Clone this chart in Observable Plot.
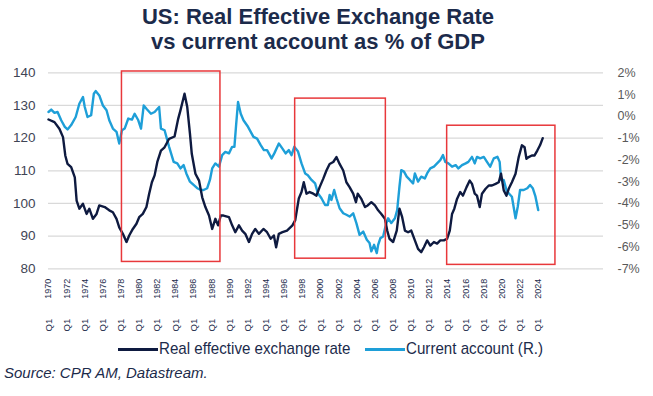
<!DOCTYPE html>
<html>
<head>
<meta charset="utf-8">
<script src="https://cdn.jsdelivr.net/npm/d3@7"></script>
<script src="https://cdn.jsdelivr.net/npm/@observablehq/plot@0.6"></script>
<style>
  html, body { margin: 0; padding: 0; background: #fff; }
  body { width: 653px; height: 396px; overflow: hidden; font-family: "Liberation Sans", Arial, sans-serif; }
  #title { font-weight: bold; font-size: 22px; line-height: 25px; color: #1c2b4b; text-align: center; width: 636px; padding-top: 4px; height: 52px; }
  #chart { height: 282px; }
  #legend { position: relative; height: 22px; font-family: "Liberation Sans", Arial, sans-serif; font-size: 17px; color: #1c2b4b; }
  #legend .sw { position: absolute; top: 10px; width: 40px; height: 3px; }
  #legend .lt { position: absolute; top: 1px; white-space: nowrap; transform: scaleX(0.89); transform-origin: left center; }
  #source { position: absolute; left: 4px; top: 364px; font-style: italic; font-size: 15px; color: #1c2b4b; white-space: nowrap; }
</style>
</head>
<body>
<div id="title">US: Real Effective Exchange Rate<br>vs current account as % of GDP</div>
<div id="chart"></div>
<div id="legend">
  <span class="sw" style="left:118px;background:#0e1a40"></span><span class="lt" style="left:159px">Real effective exchange rate</span>
  <span class="sw" style="left:365px;background:#1e9fd8"></span><span class="lt" style="left:406px">Current account (R.)</span>
</div>
<div id="source">Source: CPR AM, Datastream.</div>
<script>
// Real effective exchange rate (left axis), time in decimal years
const reerTime = [1970.0,1970.66,1971.2,1971.6,1971.85,1972.1,1972.5,1972.9,1973.1,1973.4,1973.8,1974.2,1974.5,1974.9,1975.3,1975.6,1976.2,1976.7,1977.1,1977.5,1977.8,1978.2,1978.6,1978.9,1979.3,1979.7,1980.0,1980.4,1980.8,1981.1,1981.4,1981.7,1982.0,1982.4,1982.8,1983.3,1983.9,1984.3,1984.55,1985.0,1985.3,1985.6,1985.8,1986.2,1986.6,1986.95,1987.3,1987.7,1988.05,1988.4,1988.7,1989.0,1989.3,1989.9,1990.25,1990.6,1991.0,1991.35,1991.7,1992.1,1992.45,1992.8,1993.2,1993.7,1994.1,1994.5,1994.85,1995.1,1995.4,1995.8,1996.3,1996.9,1997.2,1997.6,1997.9,1998.15,1998.45,1998.8,1999.2,1999.55,1999.9,2000.3,2000.65,2001.0,2001.4,2001.75,2002.1,2002.5,2002.85,2003.2,2003.6,2003.9,2004.1,2004.5,2004.9,2005.2,2005.6,2006.0,2006.35,2006.7,2007.1,2007.35,2007.6,2008.0,2008.4,2008.7,2009.0,2009.3,2009.65,2010.0,2010.4,2010.75,2011.1,2011.4,2011.75,2012.1,2012.5,2012.85,2013.2,2013.6,2013.95,2014.25,2014.5,2014.75,2015.05,2015.4,2015.7,2016.1,2016.45,2016.7,2017.0,2017.25,2017.55,2017.8,2018.2,2018.55,2018.9,2019.3,2019.65,2019.9,2020.2,2020.5,2020.75,2021.1,2021.5,2021.85,2022.2,2022.5,2022.7,2022.95,2023.3,2023.6,2023.9,2024.2,2024.5];
const reerValue = [125.7,124.9,122.9,120.3,114.7,112.1,111.1,108,100.9,98.4,99.9,96.8,98.4,95.3,96.8,99.4,98.9,97.9,97.3,95.3,92.7,90.7,88.2,90.2,92.2,93.8,95.8,96.8,98.9,103,106.5,108.6,112.7,116.2,117.2,119.8,120.5,125.9,128.5,133.6,129.5,121.3,115.2,109.1,107,101.9,98.9,96.3,92.2,95.3,93.3,96.3,96.3,95.8,93.3,91.2,93.3,91.7,90.7,88.2,90.7,92.2,90.7,92.2,91.2,89.2,90.2,86.6,90.7,91.2,91.7,93.3,94.8,101.5,103.5,106.5,103,103.5,103,102.4,105,107.6,110.1,112.1,112.7,114.2,112.1,110.1,106.5,105,103,100.4,103,101.4,98.9,99.4,100.4,99.4,97.9,96.8,95.3,91.7,89.2,88.2,91.7,98.4,95.8,91.7,91.2,91.7,88.7,86.1,85.1,86.6,88.7,87.1,88.2,87.7,88.7,88.7,89.2,91.7,96.8,98.4,101.4,103.5,102.4,105,107,106,103,102.4,98.9,103,104.5,105.5,105.5,106,106.5,109.1,104,102.4,104.5,106.5,109.1,114.2,117.8,117.2,113.7,114.2,114.7,114.7,116.2,117.8,120.0];

// Current account, % of GDP (right axis)
const caTime = [1970.0,1970.3,1970.66,1971.0,1971.4,1971.8,1972.1,1972.5,1973.0,1973.4,1973.8,1974.0,1974.3,1974.7,1975.0,1975.2,1975.6,1976.0,1976.4,1976.7,1977.1,1977.5,1977.8,1978.1,1978.4,1978.8,1979.2,1979.5,1979.9,1980.2,1980.5,1980.8,1981.3,1981.7,1982.2,1982.4,1982.8,1983.3,1983.8,1984.2,1984.55,1984.9,1985.2,1985.6,1986.0,1986.4,1986.8,1987.1,1987.5,1987.8,1988.05,1988.4,1988.8,1989.15,1989.5,1989.9,1990.25,1990.5,1990.7,1990.9,1991.2,1991.5,1992.0,1992.3,1992.6,1993.0,1993.4,1993.75,1994.1,1994.6,1994.9,1995.4,1995.8,1996.15,1996.5,1996.8,1997.1,1997.5,1997.9,1998.3,1998.6,1999.0,1999.4,1999.7,2000.1,2000.5,2000.8,2001.0,2001.2,2001.5,2001.75,2002.1,2002.5,2002.85,2003.2,2003.6,2003.95,2004.3,2004.7,2005.1,2005.4,2005.6,2005.9,2006.2,2006.35,2006.6,2006.9,2007.2,2007.45,2007.8,2008.2,2008.45,2008.7,2008.9,2009.2,2009.5,2009.85,2010.2,2010.4,2010.75,2011.1,2011.5,2011.75,2012.1,2012.5,2012.85,2013.2,2013.5,2013.75,2014.1,2014.5,2014.9,2015.2,2015.6,2016.0,2016.3,2016.7,2017.0,2017.25,2017.6,2018.0,2018.35,2018.7,2019.1,2019.5,2019.75,2019.9,2020.2,2020.5,2020.75,2021.1,2021.5,2021.75,2022.0,2022.4,2022.8,2023.1,2023.4,2023.7,2024.0];
const caValue = [0.2,0.31,0.16,0.2,-0.18,-0.48,-0.6,-0.4,-0.03,0.58,0.89,0.43,-0.03,0.05,1.04,1.16,0.96,0.5,0.28,-0.18,-0.56,-0.71,-1.25,-0.64,-0.56,-0.1,-0.15,0.12,-0.18,-0.56,0.5,0.35,0.12,0.2,0.43,-0.56,-0.64,-1.4,-2.09,-2.16,-2.39,-2.24,-2.62,-3.0,-3.15,-3.3,-3.38,-3.38,-3.3,-2.92,-2.39,-2.16,-2.31,-1.78,-1.63,-1.7,-1.4,-1.4,-0.33,0.66,0.12,-0.18,-0.48,-0.71,-0.94,-1.02,-1.32,-1.55,-1.55,-1.93,-1.7,-1.25,-1.48,-1.7,-1.55,-1.78,-1.4,-1.6,-2.16,-2.62,-2.7,-2.92,-3.08,-3.53,-3.76,-4.07,-4.07,-3.61,-3.84,-3.38,-3.76,-4.22,-4.45,-4.52,-4.6,-4.45,-4.9,-5.44,-5.29,-5.67,-5.82,-6.2,-5.9,-6.28,-5.9,-5.59,-5.52,-4.98,-4.68,-4.9,-4.68,-4.3,-3.23,-2.47,-2.54,-2.77,-2.92,-3.08,-2.62,-3.0,-2.77,-2.85,-2.62,-2.39,-2.31,-2.16,-2.01,-1.78,-2.09,-2.16,-2.31,-2.24,-2.39,-2.24,-2.16,-2.09,-1.86,-2.16,-1.86,-1.93,-1.86,-2.09,-2.31,-1.93,-1.86,-2.09,-2.92,-2.92,-3.38,-3.53,-3.69,-4.68,-4.14,-3.38,-3.38,-3.3,-3.15,-3.3,-3.69,-4.3];

// Axis ticks
const leftTicks = [80, 90, 100, 110, 120, 130, 140];
const rightTicks = [2, 1, 0, -1, -2, -3, -4, -5, -6, -7];
const tickYears = [1970,1972,1974,1976,1978,1980,1982,1984,1986,1988,1990,1992,1994,1996,1998,2000,2002,2004,2006,2008,2010,2012,2014,2016,2018,2020,2022,2024];

// Highlighted periods (red boxes)
const boxStart = [1978.1, 1997.2, 2013.96];
const boxEnd = [1988.96, 2007.2, 2025.9];
const boxLow = [82.1, 83.1, 81.2];
const boxHigh = [140.4, 132.1, 123.8];

const reer = reerTime.map((t, i) => ({t, v: reerValue[i]}));
const ca = caTime.map((t, i) => ({t, v: caValue[i]}));
const boxes = boxStart.map((s, i) => ({x1: s, x2: boxEnd[i], y1: boxLow[i], y2: boxHigh[i]}));

// map current account % onto the left scale: 2% -> 140, -7% -> 80
const caToLeft = c => 140 + (c - 2) * 60 / 9;
const leftToCa = v => Math.round((v - 140) * 9 / 60 + 2);

const chart = Plot.plot({
  width: 653,
  height: 282,
  marginLeft: 48,
  marginRight: 50,
  marginTop: 16.3,
  marginBottom: 69.7,
  style: {fontFamily: '"Liberation Sans", Arial, sans-serif', background: "#fff"},
  x: {type: "linear", domain: [1970, 2031.2], label: null},
  y: {domain: [80, 140], label: null},
  marks: [
    Plot.ruleY(leftTicks, {stroke: "#d9d9d9", strokeWidth: 1.2}),
    Plot.line(ca, {x: "t", y: d => caToLeft(d.v), stroke: "#1e9fd8", strokeWidth: 2.4, strokeLinejoin: "round"}),
    Plot.line(reer, {x: "t", y: "v", stroke: "#0e1a40", strokeWidth: 2.4, strokeLinejoin: "round"}),
    Plot.rect(boxes, {x1: "x1", x2: "x2", y1: "y1", y2: "y2", fill: "none", stroke: "#e8383b", strokeWidth: 1.5}),
    Plot.axisY(leftTicks, {anchor: "left", tickSize: 0, tickPadding: 13, fontSize: 13.5, fill: "#3f4555", label: null}),
    Plot.axisY(rightTicks.map(caToLeft), {anchor: "right", tickSize: 0, tickPadding: 14, fontSize: 12.5, fill: "#595959", label: null,
      tickFormat: v => leftToCa(v) + "%"}),
    Plot.axisX(tickYears, {anchor: "bottom", tickSize: 0, tickPadding: 10, tickRotate: -90, fontSize: 9, fill: "#1c2b4b",
      label: null, tickFormat: d => String(d)}),
    Plot.axisX(tickYears, {anchor: "bottom", tickSize: 0, tickPadding: 50, tickRotate: -90, fontSize: 9.5, fill: "#1c2b4b",
      label: null, tickFormat: () => "Q1"})
  ]
});
document.getElementById("chart").appendChild(chart);
</script>
</body>
</html>
